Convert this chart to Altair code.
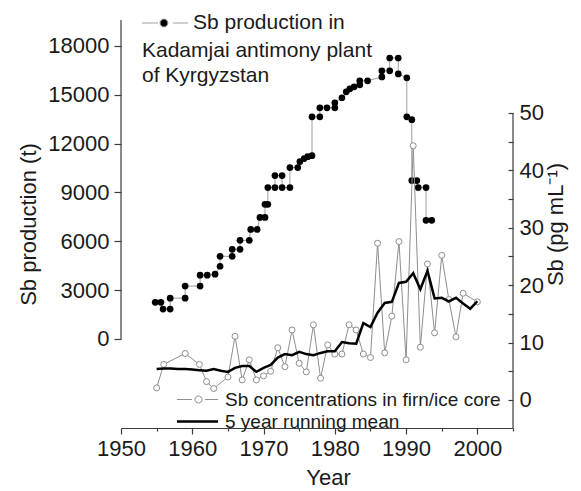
import altair as alt
import pandas as pd

# ---------------- data ----------------
x_domain = [1950, 2005]
left_domain = [-5467, 19595]
right_domain = [-4.88, 66.2]

prod_year = [1954.8, 1955.6, 1955.9, 1956.9, 1956.9, 1959.0, 1959.0, 1961.1, 1961.1, 1962.1,
             1963.2, 1963.9, 1963.9, 1965.6, 1965.6, 1966.7, 1966.7, 1968.0, 1968.2, 1969.1,
             1969.5, 1970.2, 1970.2, 1970.6, 1970.6, 1971.6, 1971.6, 1972.6, 1972.6, 1973.7,
             1973.7, 1974.8, 1975.1, 1975.7, 1976.2, 1976.8, 1976.8, 1977.9, 1977.9, 1978.9,
             1980.0, 1980.0, 1981.0, 1981.6, 1982.1, 1982.7, 1983.5, 1983.5, 1984.6, 1986.6,
             1986.6, 1987.7, 1987.7, 1988.9, 1988.9, 1990.1, 1990.1, 1990.8, 1990.8, 1991.5,
             1991.7, 1992.8, 1992.8, 1993.6]
prod_val = [2250, 2250, 1840, 1840, 2510, 2510, 3250, 3250, 3920, 3920,
            3980, 4470, 5080, 5080, 5510, 5510, 6060, 6060, 6730, 6730,
            7470, 7470, 8270, 8270, 9300, 9300, 10040, 10040, 9300, 9300,
            10530, 10530, 10900, 11080, 11200, 11260, 13650, 13650, 14200, 14200,
            14200, 14510, 14820, 15180, 15370, 15490, 15610, 15860, 15860, 16100,
            16470, 16470, 17260, 17260, 16280, 16040, 13650, 13470, 9730, 9730,
            9300, 9300, 7290, 7290]

conc_year = [1955, 1956, 1959, 1961, 1962, 1963, 1965, 1966, 1967, 1968,
             1969, 1970, 1971, 1972, 1973, 1974, 1975, 1976, 1977, 1978,
             1979, 1980, 1981, 1982, 1983, 1984, 1985, 1986, 1987, 1988,
             1989, 1990, 1991, 1992, 1993, 1994, 1995, 1996, 1997, 1998, 2000]
conc_val = [2.1, 6.2, 8.1, 6.2, 3.2, 2.0, 4.0, 11.1, 3.5, 7.0,
            3.5, 4.2, 5.0, 9.1, 5.8, 12.2, 6.4, 4.9, 13.1, 3.8,
            9.6, 8.0, 8.0, 13.1, 12.2, 8.0, 7.4, 27.3, 8.2, 14.6,
            27.6, 7.0, 44.3, 9.2, 23.7, 11.7, 25.2, 17.5, 11.0, 18.6, 17.1]

mean_year = list(range(1955, 2001))
mean_val = [5.4, 5.5, 5.5, 5.4, 5.4, 5.3, 5.2, 5.1, 5.4, 5.1,
            4.9, 5.6, 5.9, 5.9, 4.9, 5.6, 6.1, 7.4, 8.0, 7.8,
            8.4, 8.0, 7.8, 8.2, 8.5, 8.5, 10.1, 9.9, 9.8, 13.4,
            12.7, 15.2, 16.9, 17.1, 20.4, 20.6, 22.1, 19.3, 22.5, 17.7,
            17.8, 17.2, 17.8, 16.8, 15.9, 17.2]

left_ticks = [0, 3000, 6000, 9000, 12000, 15000, 18000]
right_ticks = [0, 5, 10, 15, 20, 25, 30, 35, 40, 45, 50]
x_major = [1950, 1960, 1970, 1980, 1990, 2000]
x_minor = [1955, 1965, 1975, 1985, 1995, 2005]

PROD_LABEL = "Sb production in"
PROD_TITLE = ["Kadamjai antimony plant", "of Kyrgyzstan"]
CONC_LABEL = "Sb concentrations in firn/ice core"
MEAN_LABEL = "5 year running mean"
legend_series = [CONC_LABEL, MEAN_LABEL]

# ---------------- style ----------------
FONT = "Liberation Sans"
TXT = "#1a1a1a"
AX = "#3c3c3c"
GRAY_P = "#9e9e9e"
GRAY_C = "#8e8e8e"

TOP_PATH = "M-1.045,0H0.41M1.77,0H3.14M0.59,0A0.36,0.36 0 1,1 1.31,0A0.36,0.36 0 1,1 0.59,0Z"
CONC_PATH = "M-1.15,0H0.35M1.65,0H2.95M0.65,0A0.35,0.35 0 1,1 1.35,0A0.35,0.35 0 1,1 0.65,0Z"
MEAN_PATH = "M-1.15,0H2.95"

xs = alt.Scale(domain=x_domain, nice=False, zero=False)
yl = alt.Scale(domain=left_domain, nice=False, zero=False)
yr = alt.Scale(domain=right_domain, nice=False, zero=False)

prod_df = pd.DataFrame({"year": prod_year, "value": prod_val,
                        "i": list(range(len(prod_year))), "series": PROD_LABEL})
conc_df = pd.DataFrame({"year": conc_year, "value": conc_val})
mean_df = pd.DataFrame({"year": mean_year, "value": mean_val})
leg_df = pd.DataFrame({"series": legend_series, "year": [1960, 1960], "value": [0, 0]})
laxis_df = pd.DataFrame({"year": [x_domain[0]], "lo": [0], "hi": [left_domain[1]]})
raxis_df = pd.DataFrame({"year": [x_domain[1]], "lo": [right_domain[0]], "hi": [50]})

x_axis = alt.Axis(values=x_major, format="d", orient="bottom", tickSize=6,
                  labelPadding=4, title="Year", titlePadding=8, titleX=207,
                  labelOverlap=False, labelFlush=False)
x_axis_minor = alt.Axis(values=x_minor, orient="bottom", tickSize=3, labels=False,
                        domain=False, title="")
left_axis = alt.Axis(values=left_ticks, format="d", domain=False, orient="left",
                     tickSize=7, labelPadding=5, title="Sb production (t)", titlePadding=7,
                     labelOverlap=False, labelFlush=False)
right_axis = alt.Axis(values=right_ticks, format="d",
                      labelExpr="datum.value % 10 === 0 ? datum.label : ''",
                      domain=False, orient="right", offset=-5, tickSize=5, labelPadding=6,
                      title="Sb (pg mL⁻¹)", titleAngle=270, titleBaseline="top", titlePadding=2,
                      labelOverlap=False, labelFlush=False)

top_legend = alt.Legend(orient="none", legendX=21, legendY=-8.5, direction="vertical", columns=1,
                        padding=0, title=PROD_TITLE, titleOrient="bottom", titleAnchor="start",
                        titleAlign="left", titleBaseline="top", titleFont=FONT, titleFontSize=21,
                        titleFontWeight="normal", titleColor=TXT, titleLineHeight=25,
                        titlePadding=6, titleLimit=500,
                        labelFont=FONT, labelFontSize=21, labelColor=TXT, labelOffset=28,
                        labelLimit=500, symbolType=TOP_PATH, symbolSize=484,
                        symbolStrokeColor=GRAY_P, symbolStrokeWidth=1, symbolOpacity=1)

bot_legend = alt.Legend(orient="none", legendX=56, legendY=369, direction="vertical", columns=1,
                        padding=0, title=None, rowPadding=0,
                        labelFont=FONT, labelFontSize=19, labelColor=TXT, labelOffset=25,
                        labelLimit=500, symbolSize=400, symbolOpacity=1)

# ---------------- left (production) ----------------
prod_line = alt.Chart(prod_df).mark_line(color=GRAY_P, strokeWidth=1).encode(
    x=alt.X("year:Q", scale=xs, axis=x_axis),
    y=alt.Y("value:Q", scale=yl, axis=left_axis),
    order=alt.Order("i:Q"),
)
prod_pts = alt.Chart(prod_df).mark_point(filled=True, size=45, opacity=1).encode(
    x=alt.X("year:Q", scale=xs),
    y=alt.Y("value:Q", scale=yl),
    color=alt.Color("series:N", scale=alt.Scale(domain=[PROD_LABEL], range=["black"]),
                    legend=top_legend),
)
left_rule = alt.Chart(laxis_df).mark_rule(color=AX, strokeWidth=1.2).encode(
    x=alt.X("year:Q", scale=xs),
    y=alt.Y("lo:Q", scale=yl),
    y2="hi:Q",
)
left_group = alt.layer(prod_line, prod_pts, left_rule)

# ---------------- right (concentrations) ----------------
conc_line = alt.Chart(conc_df).mark_line(color=GRAY_C, strokeWidth=1).encode(
    x=alt.X("year:Q", scale=xs, axis=x_axis_minor),
    y=alt.Y("value:Q", scale=yr, axis=right_axis),
)
conc_pts = alt.Chart(conc_df).mark_point(shape="circle", fill="white", stroke=GRAY_C,
                                         strokeWidth=1, size=36, opacity=1).encode(
    x=alt.X("year:Q", scale=xs),
    y=alt.Y("value:Q", scale=yr),
)
mean_line = alt.Chart(mean_df).mark_line(color="black", strokeWidth=2.5).encode(
    x=alt.X("year:Q", scale=xs),
    y=alt.Y("value:Q", scale=yr),
)
right_rule = alt.Chart(raxis_df).mark_rule(color=AX, strokeWidth=1.2).encode(
    x=alt.X("year:Q", scale=xs),
    y=alt.Y("lo:Q", scale=yr),
    y2="hi:Q",
)
legend_layer = alt.Chart(leg_df).transform_filter("false").mark_point(size=36).encode(
    x=alt.X("year:Q", scale=xs),
    y=alt.Y("value:Q", scale=yr),
    shape=alt.Shape("series:N", scale=alt.Scale(domain=legend_series, range=[CONC_PATH, MEAN_PATH]),
                    legend=bot_legend),
    stroke=alt.Stroke("series:N", scale=alt.Scale(domain=legend_series, range=[GRAY_C, "black"]),
                      legend=bot_legend),
    strokeWidth=alt.StrokeWidth("series:N", scale=alt.Scale(domain=legend_series, range=[1, 2.5]),
                                legend=bot_legend),
)
right_group = alt.layer(conc_line, conc_pts, mean_line, right_rule, legend_layer)

chart = alt.layer(left_group, right_group).resolve_scale(
    y="independent", x="independent"
).properties(
    width=392, height=408,
    autosize=alt.AutoSizeParams(type="none"),
    padding={"left": 113, "top": 12, "right": 60, "bottom": 62},
    background="white",
).configure_axis(
    labelFont=FONT, labelFontSize=22, labelColor=TXT,
    titleFont=FONT, titleFontSize=22, titleFontWeight="normal", titleColor=TXT,
    domainColor=AX, domainWidth=1.2, tickColor=AX, tickWidth=1.2, grid=False,
).configure_view(stroke=None)

chart.save("out.html", embed_options={"renderer": "svg", "actions": False})
